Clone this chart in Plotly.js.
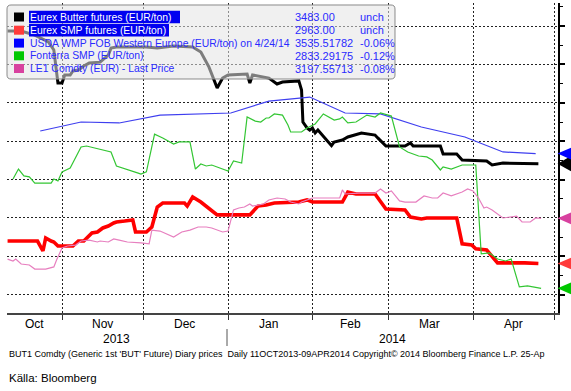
<!DOCTYPE html>
<html><head><meta charset="utf-8">
<script src="https://cdn.plot.ly/plotly-3.0.1.min.js"></script>
<style>html,body{margin:0;padding:0;background:#fff}#chart{width:571px;height:391px}</style>
</head><body><div id="chart"></div>
<script>
// ---------- DATA ----------
const butterDates = ['2013-10-12','2013-10-17','2013-10-22','2013-10-27','2013-10-29','2013-10-30 12:00','2013-11-01','2013-11-02','2013-11-04','2013-11-05','2013-11-07','2013-11-09','2013-11-11','2013-11-15','2013-11-18','2013-11-19','2013-11-21','2013-12-02','2013-12-06','2013-12-12','2013-12-19','2013-12-22','2013-12-25','2013-12-28','2013-12-30','2014-01-01','2014-01-08','2014-01-09','2014-01-10','2014-01-16','2014-01-19','2014-01-21','2014-01-27','2014-01-28','2014-01-28 12:00','2014-01-30','2014-01-31','2014-02-01','2014-02-02','2014-02-03','2014-02-08','2014-02-09','2014-02-12','2014-02-14','2014-02-19','2014-02-24','2014-02-25','2014-02-28','2014-03-07','2014-03-09','2014-03-10','2014-03-20','2014-03-21','2014-03-26','2014-03-28','2014-04-06','2014-04-08','2014-04-12','2014-04-25'];
const butterValues = [4174,4174,4153,4117,4075,3903,3903,3945,3945,3966,3971,3992,4007,4012,4049,4085,4091,4091,4085,4096,4091,4065,3986,3877,3929,3945,3950,3903,3945,3929,3898,3908,3914,3867,3700,3669,3658,3669,3643,3658,3577,3596,3606,3622,3643,3632,3617,3575,3575,3591,3575,3575,3533,3533,3502,3497,3476,3486,3483];

const smpDates = ['2013-10-12','2013-10-23','2013-10-25','2013-10-26','2013-10-28','2013-10-29','2013-10-30 12:00','2013-11-05','2013-11-07','2013-11-09','2013-11-12','2013-11-14','2013-11-16','2013-11-18','2013-11-20','2013-11-21','2013-11-24','2013-11-27','2013-11-28','2013-12-02','2013-12-04','2013-12-06','2013-12-08','2013-12-16','2013-12-17','2013-12-19','2013-12-22','2013-12-28','2014-01-09','2014-01-12','2014-01-15','2014-01-18','2014-01-27','2014-01-30','2014-02-01','2014-02-12','2014-02-14','2014-02-17','2014-02-24','2014-02-28','2014-03-07','2014-03-09','2014-03-13','2014-03-15','2014-03-26','2014-03-28','2014-03-31 12:00','2014-04-02','2014-04-06','2014-04-10','2014-04-20','2014-04-25'];
const smpValues = [3080,3080,3028,3096,3080,3075,3054,3054,3080,3080,3122,3127,3148,3158,3174,3179,3184,3190,3127,3127,3153,3257,3278,3278,3262,3309,3283,3216,3216,3262,3268,3278,3283,3294,3283,3283,3335,3325,3325,3247,3242,3205,3195,3200,3200,3065,3059,3039,3033,2966,2966,2963];

const wmpDates = ['2013-10-24','2013-11-08','2013-11-22','2013-12-07','2014-01-02','2014-01-16','2014-01-31','2014-02-13','2014-02-26','2014-03-13','2014-03-29','2014-04-12','2014-04-24'];
const wmpValues = [3653,3700,3695,3736,3747,3809,3830,3747,3742,3674,3622,3544,3535.5];

const fonterraDates = ['2013-10-14','2013-10-16','2013-10-18','2013-10-20','2013-10-22','2013-10-28','2013-10-29','2013-10-30 12:00','2013-11-01','2013-11-04','2013-11-08','2013-11-10','2013-11-19','2013-11-21','2013-11-29','2013-11-30','2013-12-02','2013-12-05','2013-12-08','2013-12-12','2013-12-14','2013-12-18','2013-12-20','2013-12-22','2013-12-24','2013-12-26','2014-01-01','2014-01-03','2014-01-06','2014-01-08','2014-01-11','2014-01-13','2014-01-15','2014-01-16','2014-01-18','2014-01-21','2014-01-23','2014-01-24','2014-01-28','2014-01-30','2014-02-02','2014-02-05','2014-02-09','2014-02-11','2014-02-12','2014-02-14','2014-02-17','2014-02-21','2014-02-24','2014-02-26','2014-03-02','2014-03-05','2014-03-08','2014-03-12','2014-03-15','2014-03-17','2014-03-20','2014-03-21','2014-03-24','2014-03-28','2014-04-02','2014-04-04','2014-04-07','2014-04-10','2014-04-13','2014-04-15','2014-04-18','2014-04-21','2014-04-26'];
const fonterraValues = [3403,3455,3419,3414,3382,3382,3403,3393,3440,3460,3570,3575,3544,3471,3434,3429,3440,3637,3617,3585,3596,3596,3455,3481,3471,3476,3445,3497,3486,3726,3705,3700,3721,3721,3742,3736,3684,3648,3648,3669,3690,3742,3710,3716,3726,3695,3700,3736,3726,3747,3731,3570,3544,3523,3518,3502,3450,3466,3455,3476,3476,3013,3018,2986,2976,2986,2841,2846,2833.3];

const le1Dates = ['2013-10-12','2013-10-14','2013-10-15','2013-10-17','2013-10-20','2013-10-22','2013-10-26','2013-10-29','2013-10-30','2013-11-01','2013-11-03','2013-11-06','2013-11-08','2013-11-11','2013-11-14','2013-11-15','2013-11-18','2013-11-20','2013-11-22','2013-11-25','2013-11-30','2013-12-03','2013-12-04','2013-12-07','2013-12-12','2013-12-15','2013-12-18','2013-12-21','2013-12-24','2013-12-26','2013-12-30','2014-01-01','2014-01-03','2014-01-05','2014-01-07','2014-01-09','2014-01-10','2014-01-14','2014-01-16','2014-01-19','2014-01-22','2014-01-24','2014-01-27','2014-01-28','2014-02-01','2014-02-04','2014-02-11','2014-02-12','2014-02-13','2014-02-18','2014-02-24','2014-02-26','2014-02-28','2014-03-02','2014-03-05','2014-03-07','2014-03-11','2014-03-14','2014-03-17','2014-03-19','2014-03-21','2014-03-24','2014-03-28','2014-03-30','2014-04-01','2014-04-03','2014-04-05','2014-04-06','2014-04-08','2014-04-12','2014-04-15','2014-04-17','2014-04-19','2014-04-22','2014-04-24','2014-04-26'];
const le1Values = [2986,2976,2986,2960,2955,2934,2934,2945,2981,3044,3054,3059,3080,3085,3075,3080,3075,3091,3085,3075,3070,3065,3137,3132,3101,3127,3137,3153,3153,3148,3127,3132,3242,3252,3257,3273,3262,3273,3294,3304,3299,3283,3273,3283,3304,3304,3304,3346,3325,3330,3330,3351,3330,3341,3289,3283,3283,3315,3304,3304,3330,3315,3335,3351,3341,3304,3252,3257,3242,3200,3205,3210,3179,3179,3200,3198];

const legendNames = ['Eurex Butter futures (EUR/ton)','Eurex SMP futures (EUR/ton)','USDA WMP FOB Western Europe (EUR/ton) on 4/24/14','Fonterra SMP (EUR/ton)','LE1 Comdty (EUR) - Last Price'];
const legendLast = ['3483.00','2963.00','3535.51782','2833.29175','3197.55713'];
const legendChange = ['unch','unch','-0.06%','-0.12%','-0.08%'];

const monthBoundaries = ['2013-11-01','2013-12-01','2014-01-01','2014-02-01','2014-03-01','2014-04-01','2014-05-01'];
const monthLabels = ['Oct','Nov','Dec','Jan','Feb','Mar','Apr'];
const monthLabelDates = ['2013-10-22','2013-11-16','2013-12-16','2014-01-16','2014-02-15','2014-03-16','2014-04-16'];
const yearLabels = ['2013','2014'];
const captionText = "BUT1 Comdty (Generic 1st 'BUT' Future) Diary prices  Daily 11OCT2013-09APR2014 Copyright\u00A9 2014 Bloomberg Finance L.P. 25-Ap";
const sourceText = 'Källa: Bloomberg';

// ---------- STYLE / LAYOUT ----------
const W = 571, H = 391;
const L = 7, R = 558, T = 3, B = 313;
const px = x => (x - L) / (R - L);
const py = y => (B - y) / (B - T);
const yRange = [2705, 4320];
const dataPerPx = (yRange[1] - yRange[0]) / (B - T);

const lineColors = ['#000000', '#ff0000', '#3f3fef', '#33c633', '#e77fbf'];
const lineWidths = [3, 3.6, 1.2, 1.2, 1.2];
const swatchColors = ['#000000', '#ff3b3b', '#0000ff', '#00c800', '#d8419f'];
const seriesX = [butterDates, smpDates, wmpDates, fonterraDates, le1Dates];
const seriesY = [butterValues, smpValues, wmpValues, fonterraValues, le1Values];
const drawOrder = [1, 0, 2, 3, 4];

const traces = drawOrder.map(i => ({
  type: 'scatter', mode: 'lines', x: seriesX[i], y: seriesY[i],
  line: {color: lineColors[i], width: lineWidths[i]}, hoverinfo: 'skip', showlegend: false
}));

const shapes = [];
const annotations = [];
const font = 'Liberation Sans, Arial, sans-serif';

// last-value markers on the right axis (y from each series' last value)
[0, 2, 4, 1, 3].forEach(i => {
  const v = seriesY[i][seriesY[i].length - 1];
  const h = (i === 0 ? 10 : 7.5) * dataPerPx;
  shapes.push({type: 'path', xref: 'paper', yref: 'y', layer: 'above',
    path: `M ${px(557.5)},${v} L ${px(575)},${v + h} L ${px(575)},${v - h} Z`,
    fillcolor: swatchColors[i], line: {width: 0}});
});

// legend box with rounded corners
(function () {
  const x0 = 7, y0 = 5, x1 = 395, y1 = 79, r = 4;
  const X = v => px(v).toFixed(5), Y = v => py(v).toFixed(5);
  const path = `M ${X(x0 + r)},${Y(y0)} L ${X(x1 - r)},${Y(y0)} Q ${X(x1)},${Y(y0)} ${X(x1)},${Y(y0 + r)} ` +
    `L ${X(x1)},${Y(y1 - r)} Q ${X(x1)},${Y(y1)} ${X(x1 - r)},${Y(y1)} L ${X(x0 + r)},${Y(y1)} ` +
    `Q ${X(x0)},${Y(y1)} ${X(x0)},${Y(y1 - r)} L ${X(x0)},${Y(y0 + r)} Q ${X(x0)},${Y(y0)} ${X(x0 + r)},${Y(y0)} Z`;
  shapes.push({type: 'path', xref: 'paper', yref: 'paper', path: path,
    fillcolor: 'rgba(228,228,228,0.55)', line: {color: '#8a8a8a', width: 1}});
})();

const rowY = [17, 30.2, 43.1, 55.8, 68.5];
const highlightRight = [180, 169];
legendNames.forEach((name, i) => {
  const yc = rowY[i];
  if (i < 2) {
    shapes.push({type: 'rect', xref: 'paper', yref: 'paper',
      x0: px(29), x1: px(highlightRight[i]), y0: py(yc - 6.3), y1: py(yc + 6.3),
      fillcolor: '#0000f0', line: {width: 0}});
  }
  shapes.push({type: 'rect', xref: 'paper', yref: 'paper',
    x0: px(14), x1: px(24), y0: py(yc - 4.5), y1: py(yc + 4.5),
    fillcolor: swatchColors[i], line: {width: 0}});
  const txtColor = i < 2 ? '#ffffff' : '#2a2aff';
  annotations.push({xref: 'paper', yref: 'paper', x: px(28), y: py(yc), xanchor: 'left', yanchor: 'middle',
    text: name, showarrow: false, font: {family: font, size: 10.4, color: txtColor}});
  annotations.push({xref: 'paper', yref: 'paper', x: px(293), y: py(yc), xanchor: 'left', yanchor: 'middle',
    text: legendLast[i], showarrow: false, font: {family: font, size: 11, color: '#2a2aff'}});
  annotations.push({xref: 'paper', yref: 'paper', x: px(358), y: py(yc), xanchor: 'left', yanchor: 'middle',
    text: legendChange[i], showarrow: false, font: {family: font, size: 11, color: '#2a2aff'}});
});

// month labels
monthLabels.forEach((m, i) => {
  annotations.push({xref: 'x', yref: 'paper', x: monthLabelDates[i], y: py(324), xanchor: 'center', yanchor: 'middle',
    text: m, showarrow: false, font: {family: font, size: 12, color: '#000'}});
});
// year labels
const yearCenters = [117, 392];
yearLabels.forEach((yl, i) => {
  annotations.push({xref: 'paper', yref: 'paper', x: px(yearCenters[i]), y: py(339), xanchor: 'center', yanchor: 'middle',
    text: yl, showarrow: false, font: {family: font, size: 12, color: '#000'}});
});
shapes.push({type: 'line', xref: 'paper', yref: 'paper', x0: px(227), x1: px(227), y0: py(329), y1: py(346),
  line: {color: '#555', width: 1}});
annotations.push({xref: 'paper', yref: 'paper', x: px(7), y: py(354), xanchor: 'left', yanchor: 'middle',
  text: captionText, showarrow: false, font: {family: font, size: 9, color: '#000'}});
annotations.push({xref: 'paper', yref: 'paper', x: px(7), y: py(378), xanchor: 'left', yanchor: 'middle',
  text: sourceText, showarrow: false, font: {family: font, size: 11.5, color: '#000'}});

const layout = {
  width: W, height: H,
  margin: {l: L, r: W - R, t: T, b: H - B, pad: 0},
  paper_bgcolor: '#ffffff', plot_bgcolor: '#ffffff',
  showlegend: false,
  xaxis: {
    type: 'date', range: ['2013-10-11 19:00', '2014-05-02 05:00'],
    tickmode: 'array', tickvals: monthBoundaries, showticklabels: false,
    ticks: 'outside', ticklen: 5, tickwidth: 1, tickcolor: '#333',
    showgrid: true, gridcolor: '#222', gridwidth: 1, griddash: '2px,2px',
    showline: true, linecolor: '#444', linewidth: 1.5, zeroline: false, fixedrange: true
  },
  yaxis: {
    side: 'right', range: yRange,
    tickmode: 'linear', tick0: 2800, dtick: 200, showticklabels: false,
    ticks: 'outside', ticklen: 5, tickwidth: 2, tickcolor: '#000',
    minor: {tick0: 2700, dtick: 100, ticks: 'outside', ticklen: 3, tickwidth: 1, tickcolor: '#000', showgrid: false},
    showgrid: true, gridcolor: '#222', gridwidth: 1, griddash: '2px,2px',
    showline: true, linecolor: '#000', linewidth: 1.5, zeroline: false, fixedrange: true
  },
  shapes: shapes,
  annotations: annotations
};

Plotly.newPlot('chart', traces, layout, {staticPlot: true, displayModeBar: false});
</script>
</body></html>
